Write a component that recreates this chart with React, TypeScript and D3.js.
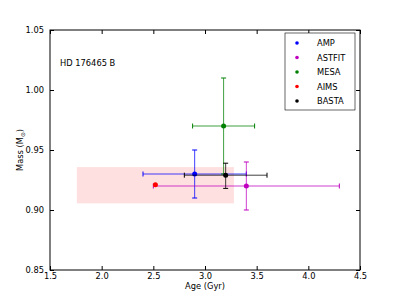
import React, { useEffect, useRef } from "react";
import * as d3 from "d3";

// pipelines, in draw order
const codes = ["AMP", "ASTFIT", "MESA", "AIMS", "BASTA"];
const colors = ["#0000ff", "#bf00bf", "#008000", "#ff0000", "#000000"];
const ages = [2.9, 3.4, 3.18, 2.52, 3.2];
const ageLo = [0.5, 0.9, 0.3, 0, 0.4];
const ageHi = [0.5, 0.9, 0.3, 0, 0.4];
const masses = [0.93, 0.92, 0.97, 0.921, 0.929];
const massLo = [0.02, 0.02, 0.04, 0, 0.011];
const massHi = [0.02, 0.02, 0.04, 0, 0.01];

// AIMS uncertainty box
const boxAge = [1.76, 3.28];
const boxMass = [0.9055, 0.9358];

const xTicks = [1.5, 2.0, 2.5, 3.0, 3.5, 4.0, 4.5];
const yTicks = [0.85, 0.9, 0.95, 1.0, 1.05];

const App = () => {
  const svgRef = useRef<SVGSVGElement>(null);

  useEffect(() => {
    const width = 400;
    const height = 300;
    const marginLeft = 50;
    const marginRight = 40;
    const marginTop = 30;
    const marginBottom = 30;
    const font = "DejaVu Sans, sans-serif";

    const x = d3.scaleLinear().domain([1.5, 4.5]).range([marginLeft, width - marginRight]);
    const y = d3.scaleLinear().domain([0.85, 1.05]).range([height - marginBottom, marginTop]);

    const svg = d3.select(svgRef.current);
    svg.selectAll("*").remove();
    svg.attr("width", width).attr("height", height).attr("viewBox", [0, 0, width, height]);

    svg.append("rect").attr("width", width).attr("height", height).attr("fill", "#fff");

    // shaded box
    svg.append("rect")
      .attr("x", x(boxAge[0]))
      .attr("y", y(boxMass[1]))
      .attr("width", x(boxAge[1]) - x(boxAge[0]))
      .attr("height", y(boxMass[0]) - y(boxMass[1]))
      .attr("fill", "#ff0000")
      .attr("fill-opacity", 0.12);

    const cap = 2.5;
    codes.forEach((c, i) => {
      const g = svg.append("g").attr("stroke", colors[i]).attr("fill", colors[i]);
      const cx = x(ages[i]);
      const cy = y(masses[i]);
      if (ageLo[i] + ageHi[i] > 0) {
        const x0 = x(ages[i] - ageLo[i]);
        const x1 = x(ages[i] + ageHi[i]);
        g.append("line").attr("x1", x0).attr("x2", x1).attr("y1", cy).attr("y2", cy)
          .attr("stroke-width", 1).attr("stroke-opacity", 0.75);
        [x0, x1].forEach((v) =>
          g.append("line").attr("x1", v).attr("x2", v).attr("y1", cy - cap).attr("y2", cy + cap)
            .attr("stroke-width", 1));
      }
      if (massLo[i] + massHi[i] > 0) {
        const y0 = y(masses[i] - massLo[i]);
        const y1 = y(masses[i] + massHi[i]);
        g.append("line").attr("x1", cx).attr("x2", cx).attr("y1", y0).attr("y2", y1)
          .attr("stroke-width", 1).attr("stroke-opacity", 0.75);
        [y0, y1].forEach((v) =>
          g.append("line").attr("x1", cx - cap).attr("x2", cx + cap).attr("y1", v).attr("y2", v)
            .attr("stroke-width", 1));
      }
      g.append("circle").attr("cx", cx).attr("cy", cy).attr("r", 2.5).attr("stroke", "none");
    });

    // frame
    svg.append("rect")
      .attr("x", marginLeft)
      .attr("y", marginTop)
      .attr("width", width - marginLeft - marginRight)
      .attr("height", height - marginTop - marginBottom)
      .attr("fill", "none")
      .attr("stroke", "#000")
      .attr("stroke-width", 1);

    const styleAxis = (g: any) => {
      g.select(".domain").remove();
      g.selectAll("text").attr("font-family", font).attr("font-size", 8.3).attr("fill", "#000");
      g.selectAll("line").attr("stroke", "#000");
    };

    svg.append("g")
      .attr("transform", `translate(0,${height - marginBottom})`)
      .call(d3.axisBottom(x).tickValues(xTicks).tickFormat(d3.format(".1f")).tickSizeInner(-4).tickSizeOuter(0).tickPadding(3))
      .call(styleAxis);
    svg.append("g")
      .attr("transform", `translate(0,${marginTop})`)
      .call(d3.axisTop(x).tickValues(xTicks).tickFormat(() => "").tickSizeInner(-4).tickSizeOuter(0))
      .call(styleAxis);
    svg.append("g")
      .attr("transform", `translate(${marginLeft},0)`)
      .call(d3.axisLeft(y).tickValues(yTicks).tickFormat(d3.format(".2f")).tickSizeInner(-4).tickSizeOuter(0).tickPadding(6))
      .call(styleAxis);
    svg.append("g")
      .attr("transform", `translate(${width - marginRight},0)`)
      .call(d3.axisRight(y).tickValues(yTicks).tickFormat(() => "").tickSizeInner(-4).tickSizeOuter(0))
      .call(styleAxis);

    // labels
    svg.append("text")
      .attr("x", (marginLeft + width - marginRight) / 2)
      .attr("y", 289)
      .attr("text-anchor", "middle")
      .attr("font-family", font)
      .attr("font-size", 8.3)
      .text("Age (Gyr)");

    const yl = svg.append("text")
      .attr("transform", `translate(23,${(marginTop + height - marginBottom) / 2}) rotate(-90)`)
      .attr("text-anchor", "middle")
      .attr("font-family", font)
      .attr("font-size", 8.3);
    yl.append("tspan").text("Mass (M");
    yl.append("tspan").attr("font-size", 5.8).attr("dy", 1.8).text("\u2299");
    yl.append("tspan").attr("dy", -1.8).text(")");

    svg.append("text")
      .attr("x", 60)
      .attr("y", 66)
      .attr("font-family", font)
      .attr("font-size", 8.3)
      .text("HD 176465 B");

    // legend
    const lg = svg.append("g").attr("transform", "translate(285,33)");
    lg.append("rect")
      .attr("width", 70)
      .attr("height", 77)
      .attr("fill", "#fff")
      .attr("stroke", "#000")
      .attr("stroke-width", 0.6);
    codes.forEach((c, i) => {
      const ry = 10 + i * 14.5;
      lg.append("circle").attr("cx", 12).attr("cy", ry).attr("r", 1.8).attr("fill", colors[i]);
      lg.append("text")
        .attr("x", 32)
        .attr("y", ry + 3)
        .attr("font-family", font)
        .attr("font-size", 8.3)
        .text(c);
    });
  }, []);

  return (
    <svg ref={svgRef} style={{ position: "absolute", left: 0, top: 0, display: "block" }}></svg>
  );
};

export default App;
